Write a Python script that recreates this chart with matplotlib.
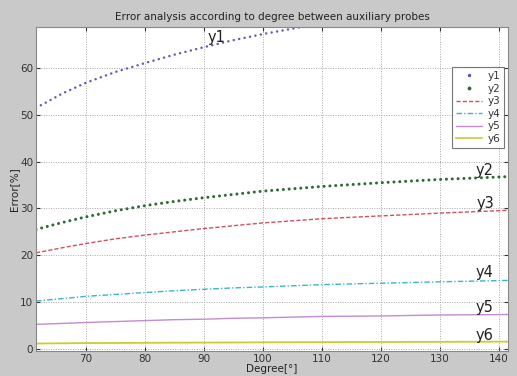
import matplotlib
matplotlib.use('Agg')
import matplotlib.pyplot as plt
from matplotlib.lines import Line2D

# données
degree = [61.5, 66, 70, 75, 80, 85, 90, 95, 100, 110, 120, 130, 141.6]
y1 = [51.5, 54.6, 56.9, 59.2, 61.1, 62.9, 64.5, 66.0, 67.3, 69.6, 71.5, 73.0, 74.5]
y2 = [25.5, 27.0, 28.2, 29.5, 30.6, 31.5, 32.3, 33.0, 33.7, 34.7, 35.5, 36.2, 36.8]
y3 = [20.5, 21.6, 22.5, 23.5, 24.3, 25.0, 25.7, 26.3, 26.9, 27.8, 28.4, 29.0, 29.6]
y4 = [10.2, 10.7, 11.2, 11.6, 12.0, 12.4, 12.7, 13.0, 13.2, 13.7, 14.0, 14.3, 14.6]
y5 = [5.2, 5.4, 5.6, 5.8, 6.0, 6.2, 6.3, 6.5, 6.6, 6.9, 7.0, 7.2, 7.3]
y6 = [1.1, 1.15, 1.2, 1.22, 1.25, 1.28, 1.3, 1.32, 1.35, 1.4, 1.43, 1.46, 1.5]

labels = ['y1', 'y2', 'y3', 'y4', 'y5', 'y6']
label_x = [92.2, 137.7, 137.7, 137.7, 137.7, 137.7]
label_y = [66.6, 38.2, 31.1, 16.4, 8.7, 2.9]

c1 = '#5a5ab8'
c2 = '#2f6a35'
c3 = '#d2505e'
c4 = '#3ab6c4'
c5 = '#c48ad2'
c6 = '#cccc30'

figure = plt.figure(figsize=(5.17, 3.76), dpi=100, facecolor='#c9c9c9')
axes = figure.add_axes([0.0696, 0.0665, 0.9130, 0.8615])
axes.set_facecolor('white')

dots = (0, (0.01, 2.2))
axes.plot(degree, y1, color=c1, lw=1.8, linestyle=dots, dash_capstyle='round')
axes.plot(degree, y2, color=c2, lw=2.2, linestyle=(0, (0.01, 1.9)), dash_capstyle='round')
axes.plot(degree, y3, color=c3, lw=1.0, linestyle=(0, (3, 1.5)))
axes.plot(degree, y4, color=c4, lw=1.0, linestyle=(0, (4, 1.5, 1, 1.5)))
axes.plot(degree, y5, color=c5, lw=1.0)
axes.plot(degree, y6, color=c6, lw=1.3)

for i in range(len(labels)):
    axes.text(label_x[i], label_y[i], labels[i], fontsize=10.5, color='#222222',
              ha='center', va='center')

axes.set_xlim(61.5, 141.6)
axes.set_ylim(-0.5, 68.8)
axes.set_xticks([70, 80, 90, 100, 110, 120, 130, 140])
axes.set_yticks([0, 10, 20, 30, 40, 50, 60])
axes.grid(True, color='#a8a8a8', linestyle=(0, (1, 1.5)), linewidth=0.7)
axes.tick_params(labelsize=7.5, colors='#333333', length=3, direction='in',
                 top=True, right=True, pad=2)
for s in axes.spines.values():
    s.set_color('#888888')

axes.set_title('Error analysis according to degree between auxiliary probes',
               fontsize=7.5, color='#222222', pad=5)
axes.set_xlabel('Degree[°]', fontsize=7.5, color='#222222', labelpad=0)
axes.set_ylabel('Error[%]', fontsize=7.5, color='#222222', labelpad=1)

handles = [
    Line2D([], [], color=c1, marker='.', markersize=3, linestyle='None'),
    Line2D([], [], color=c2, marker='.', markersize=3.5, linestyle='None'),
    Line2D([], [], color=c3, lw=1.0, linestyle=(0, (3, 1.5))),
    Line2D([], [], color=c4, lw=1.0, linestyle=(0, (4, 1.5, 1, 1.5))),
    Line2D([], [], color=c5, lw=1.0),
    Line2D([], [], color=c6, lw=1.2),
]
leg = axes.legend(handles, labels, loc='upper right', bbox_to_anchor=(0.992, 0.877),
                  fontsize=7.5, frameon=True, fancybox=False, handlelength=2.5,
                  labelspacing=0.25, borderpad=0.4, handletextpad=0.5,
                  borderaxespad=0)
leg.get_frame().set_edgecolor('#555555')
leg.get_frame().set_linewidth(0.8)
for t in leg.get_texts():
    t.set_color('#333333')

figure.savefig('out.png', dpi=100, facecolor=figure.get_facecolor())
